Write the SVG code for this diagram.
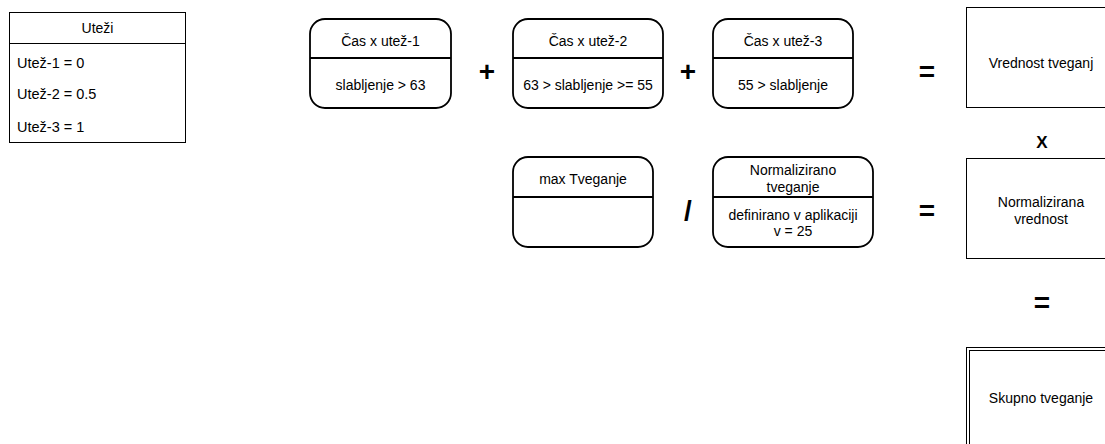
<svg xmlns="http://www.w3.org/2000/svg" width="1105" height="444" viewBox="0 0 1105 444">
<style>
text{font-family:"Liberation Sans",Arial,sans-serif;font-size:14px;fill:#000}
.c{text-anchor:middle}
.op{font-weight:bold;font-size:28px;text-anchor:middle}
.st{fill:#fff;stroke:#000;stroke-width:1.8}
.ln{stroke:#000;stroke-width:1.8}
.bx{fill:#fff;stroke:#000;stroke-width:1}
</style>
<rect width="1105" height="444" fill="#fff"/>
<g id="utezi">
<rect class="bx" x="9.5" y="12.5" width="176" height="130"/>
<line x1="9.5" y1="43.5" x2="185.5" y2="43.5" stroke="#000" stroke-width="1"/>
<text class="c" x="97.5" y="33">Uteži</text>
<text x="17" y="68" style="font-size:14.5px">Utež-1 = 0</text>
<text x="17" y="99" style="font-size:14.5px">Utež-2 = 0.5</text>
<text x="17" y="132" style="font-size:14.5px">Utež-3 = 1</text>
</g>
<g id="cas1">
<rect class="st" x="310" y="19" width="141" height="89" rx="15"/>
<line class="ln" x1="310" y1="58" x2="451" y2="58"/>
<text class="c" x="380.5" y="46">Čas x utež-1</text>
<text class="c" x="380.5" y="90">slabljenje &gt; 63</text>
</g>
<g id="cas2">
<rect class="st" x="513" y="19" width="150" height="89" rx="15"/>
<line class="ln" x1="513" y1="58" x2="663" y2="58"/>
<text class="c" x="588" y="46">Čas x utež-2</text>
<text class="c" x="588" y="90">63 &gt; slabljenje &gt;= 55</text>
</g>
<g id="cas3">
<rect class="st" x="713" y="19" width="140" height="89" rx="15"/>
<line class="ln" x1="713" y1="58" x2="853" y2="58"/>
<text class="c" x="783" y="46">Čas x utež-3</text>
<text class="c" x="783" y="90">55 &gt; slabljenje</text>
</g>
<g id="vrednost">
<rect class="bx" x="966.5" y="7.5" width="150" height="100"/>
<text class="c" x="1041" y="68">Vrednost tveganj</text>
</g>
<g id="maxtv">
<rect class="st" x="513" y="157" width="140" height="90" rx="15"/>
<line class="ln" x1="513" y1="197" x2="653" y2="197"/>
<text class="c" x="583" y="184">max Tveganje</text>
</g>
<g id="normtv">
<rect class="st" x="713" y="157" width="160" height="90" rx="15"/>
<line class="ln" x1="713" y1="197" x2="873" y2="197"/>
<text class="c" x="793" y="175">Normalizirano</text>
<text class="c" x="793" y="192">tveganje</text>
<text class="c" x="793" y="220">definirano v aplikaciji</text>
<text class="c" x="793" y="236">v = 25</text>
</g>
<g id="normvr">
<rect class="bx" x="966.5" y="158.5" width="150" height="100"/>
<text class="c" x="1041" y="207">Normalizirana</text>
<text class="c" x="1041" y="224">vrednost</text>
</g>
<g id="skupno">
<rect class="bx" x="966.5" y="347.5" width="150" height="102"/>
<rect class="bx" x="969.5" y="350.5" width="144" height="96"/>
<text class="c" x="1041" y="403">Skupno tveganje</text>
</g>
<g id="operators">
<text class="op" x="487" y="81">+</text>
<text class="op" x="688" y="81">+</text>
<text class="op" x="927" y="81">=</text>
<text class="op" x="688" y="220">/</text>
<text class="op" x="927" y="220">=</text>
<text class="op" x="1042" y="312">=</text>
<text class="op" x="1042" y="148" style="font-size:17px">X</text>
</g>
<g id="connectors"/>
</svg>
